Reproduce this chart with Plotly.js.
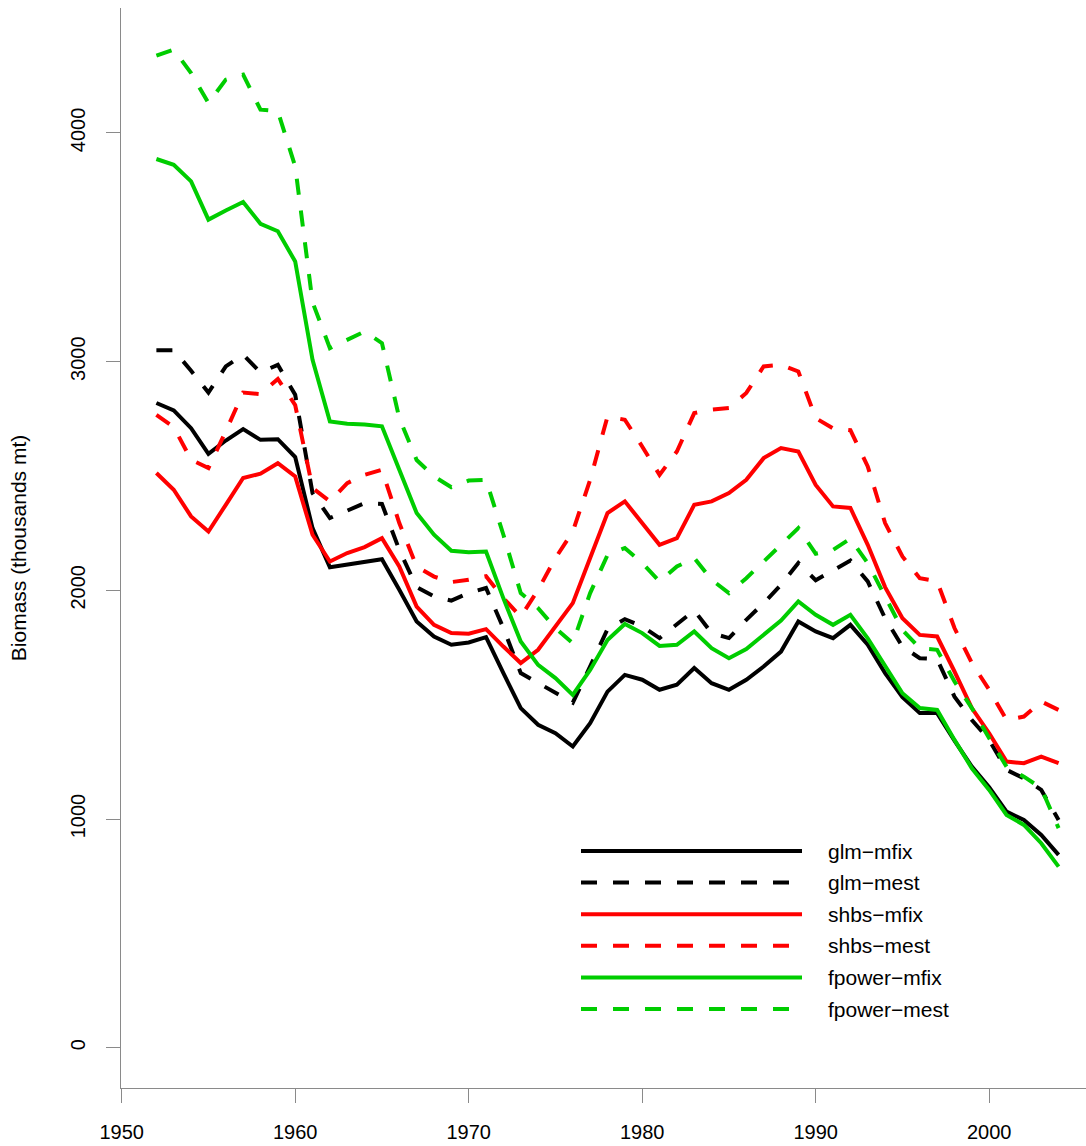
<!DOCTYPE html>
<html>
<head>
<meta charset="utf-8">
<script src="https://cdn.plot.ly/plotly-3.0.1.min.js"></script>
<style>
  html, body { margin: 0; padding: 0; background: #ffffff; }
  #chart { width: 1086px; height: 1146px; }
</style>
</head>
<body>
<div id="chart"></div>
<script>
// ---------- data ----------
const years = [1952,1953,1954,1955,1956,1957,1958,1959,1960,1961,1962,1963,1964,1965,1966,1967,1968,1969,1970,1971,
               1972,1973,1974,1975,1976,1977,1978,1979,1980,1981,1982,1983,1984,1985,1986,1987,1988,1989,1990,1991,
               1992,1993,1994,1995,1996,1997,1998,1999,2000,2001,2002,2003,2004];

const glmMfix = [2819,2787,2709,2597,2655,2705,2658,2661,2583,2272,2101,2112,2126,2136,2002,1864,1798,1762,1772,1795,
                 1638,1485,1412,1375,1317,1419,1557,1630,1609,1565,1587,1660,1594,1565,1609,1667,1732,1864,1820,1791,
                 1849,1762,1638,1533,1463,1463,1343,1229,1139,1032,996,930,843];

const glmMest = [3050,3050,2960,2865,2979,3030,2953,2986,2855,2425,2316,2349,2381,2378,2177,2014,1973,1955,1988,2010,
                 1835,1638,1594,1550,1509,1667,1830,1874,1842,1791,1849,1912,1813,1791,1871,1944,2024,2119,2044,2086,
                 2130,2039,1878,1754,1703,1699,1535,1433,1346,1215,1178,1127,996];

const shbsMfix = [2513,2440,2323,2257,2374,2491,2510,2556,2498,2243,2126,2163,2189,2228,2104,1929,1849,1813,1810,1830,
                  1754,1682,1740,1842,1944,2141,2338,2389,2294,2199,2228,2374,2389,2425,2483,2578,2622,2607,2461,2367,
                  2360,2199,2014,1878,1805,1798,1645,1485,1375,1251,1244,1273,1244];

const shbsMest = [2767,2714,2571,2535,2695,2865,2858,2924,2810,2447,2389,2469,2505,2527,2294,2104,2060,2036,2046,2062,
                  1966,1885,2002,2141,2257,2483,2760,2746,2629,2505,2607,2775,2790,2797,2863,2979,2986,2957,2753,2708,
                  2700,2542,2294,2148,2053,2039,1835,1682,1565,1433,1448,1514,1477];

const fpowerMfix = [3886,3861,3788,3621,3661,3698,3603,3570,3438,3008,2738,2728,2725,2717,2527,2338,2243,2173,2167,2170,
                    1965,1776,1674,1616,1543,1652,1783,1853,1813,1757,1762,1820,1747,1703,1743,1805,1868,1951,1893,1849,
                    1893,1790,1674,1550,1485,1477,1346,1222,1127,1018,974,894,792];

const fpowerMest = [4338,4364,4262,4131,4233,4255,4102,4095,3854,3260,3059,3096,3132,3081,2753,2570,2498,2451,2480,2483,
                    2243,1988,1922,1835,1769,1988,2154,2185,2119,2039,2104,2141,2046,1988,2053,2126,2199,2272,2160,2177,
                    2226,2119,1973,1827,1747,1740,1601,1485,1353,1229,1185,1135,960];

const seriesNames = ["glm\u2212mfix", "glm\u2212mest", "shbs\u2212mfix", "shbs\u2212mest", "fpower\u2212mfix", "fpower\u2212mest"];
const seriesValues = [glmMfix, glmMest, shbsMfix, shbsMest, fpowerMfix, fpowerMest];

const xTickVals = [1950, 1960, 1970, 1980, 1990, 2000];
const yTickVals = [0, 1000, 2000, 3000, 4000];
const yTitle = "Biomass (thousands mt)";

// ---------- styles ----------
const colors = ["#000000", "#000000", "#ff0000", "#ff0000", "#00cd00", "#00cd00"];
const dashes = ["solid", "16px,16px", "solid", "16px,16px", "solid", "16px,16px"];
const LW = 4;
const FONT = "Liberation Sans, Arial, Helvetica, sans-serif";
const AXIS_GREY = "#8a8a8a";

// figure geometry (pixels)
const W = 1086, H = 1146;
const M = { l: 121, r: 0, t: 8, b: 58 };
const plotW = W - M.l - M.r, plotH = H - M.t - M.b;
const px2paperX = px => (px - M.l) / plotW;
const px2paperY = py => (H - M.b - py) / plotH;

// ---------- traces ----------
const traces = seriesValues.map((vals, i) => ({
  type: "scatter",
  mode: "lines",
  x: years,
  y: vals,
  name: seriesNames[i],
  line: { color: colors[i], width: LW, dash: dashes[i] },
  showlegend: false,
  hoverinfo: "x+y+name"
}));

// ---------- hand-drawn legend (R style) ----------
const legTop = 851, legStep = 31.6;
const legLineX0 = 581, legLineX1 = 802, legTextX = 826;
const shapes = [], annotations = [];
seriesNames.forEach((nm, i) => {
  const py = legTop + i * legStep;
  shapes.push({
    type: "line", xref: "paper", yref: "paper",
    x0: px2paperX(legLineX0), x1: px2paperX(legLineX1),
    y0: px2paperY(py), y1: px2paperY(py),
    line: { color: colors[i], width: LW, dash: dashes[i] }
  });
  annotations.push({
    xref: "paper", yref: "paper",
    x: px2paperX(legTextX), y: px2paperY(py),
    xanchor: "left", yanchor: "middle",
    text: nm, showarrow: false,
    font: { family: FONT, size: 21, color: "#000000" }
  });
});

const layout = {
  width: W, height: H,
  margin: M,
  paper_bgcolor: "#ffffff",
  plot_bgcolor: "#ffffff",
  showlegend: false,
  font: { family: FONT, size: 20, color: "#000000" },
  xaxis: {
    range: [1949.96, 2005.58],
    tickvals: xTickVals,
    ticktext: xTickVals.map(String),
    showgrid: false, zeroline: false,
    showline: true, linecolor: AXIS_GREY, linewidth: 1,
    ticks: "outside", ticklen: 14, tickcolor: AXIS_GREY, tickwidth: 1,
    tickfont: { family: FONT, size: 20, color: "#000000" },
    ticklabelstandoff: 12
  },
  yaxis: {
    range: [-176.3, 4546.4],
    tickvals: yTickVals,
    ticktext: yTickVals.map(String),
    tickangle: -90,
    showgrid: false, zeroline: false,
    showline: true, linecolor: AXIS_GREY, linewidth: 1,
    ticks: "outside", ticklen: 14, tickcolor: AXIS_GREY, tickwidth: 1,
    tickfont: { family: FONT, size: 20, color: "#000000" },
    ticklabelstandoff: 13,
    title: { text: yTitle, font: { family: FONT, size: 21, color: "#000000" }, standoff: 34 }
  },
  shapes: shapes,
  annotations: annotations
};

Plotly.newPlot("chart", traces, layout, { displayModeBar: false, staticPlot: true });
</script>
</body>
</html>
